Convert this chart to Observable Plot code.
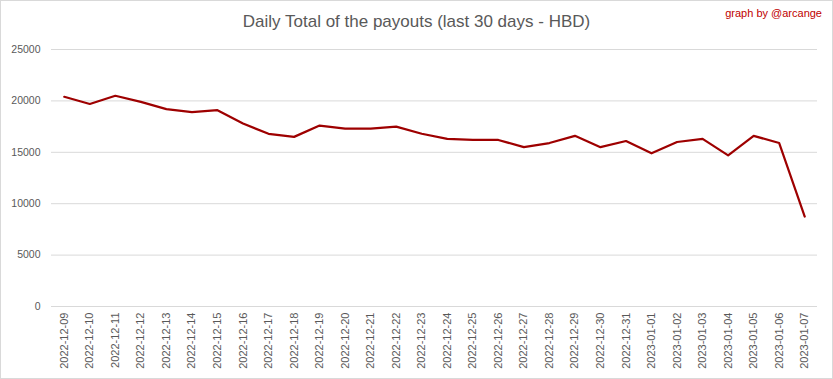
<!DOCTYPE html>
<html>
<head>
<meta charset="utf-8">
<script src="https://cdn.jsdelivr.net/npm/d3@7"></script>
<script src="https://cdn.jsdelivr.net/npm/@observablehq/plot@0.6"></script>
<style>
  html, body { margin: 0; padding: 0; background: #fff; }
  #wrap { position: relative; width: 833px; height: 379px; }
  #frame { position: absolute; left: 0; top: 0; width: 831px; height: 377px; border: 1px solid #d9d9d9; pointer-events: none; }
  #title { position: absolute; left: 0; width: 833px; top: 12px; text-align: center; font-family: "Liberation Sans", Arial, sans-serif; font-size: 17px; color: #595959; }
  #credit { position: absolute; right: 11px; top: 7px; font-family: "Liberation Sans", Arial, sans-serif; font-size: 11px; color: #c00000; }
  svg { display: block; }
</style>
</head>
<body>
<div id="wrap">
  <div id="chart"></div>
  <div id="title">Daily Total of the payouts (last 30 days - HBD)</div>
  <div id="credit">graph by @arcange</div>
  <div id="frame"></div>
</div>
<script>
const dates = [
  "2022-12-09","2022-12-10","2022-12-11","2022-12-12","2022-12-13","2022-12-14","2022-12-15",
  "2022-12-16","2022-12-17","2022-12-18","2022-12-19","2022-12-20","2022-12-21","2022-12-22",
  "2022-12-23","2022-12-24","2022-12-25","2022-12-26","2022-12-27","2022-12-28","2022-12-29",
  "2022-12-30","2022-12-31","2023-01-01","2023-01-02","2023-01-03","2023-01-04","2023-01-05",
  "2023-01-06","2023-01-07"
];
const payouts = [
  20400, 19700, 20500, 19900, 19200, 18900, 19100,
  17800, 16800, 16500, 17600, 17300, 17300, 17500,
  16800, 16300, 16200, 16200, 15500, 15900, 16600,
  15500, 16100, 14900, 16000, 16300, 14700, 16600,
  15900, 8750
];
const yTicks = [0, 5000, 10000, 15000, 20000, 25000];

const data = dates.map((d, i) => ({date: d, value: payouts[i]}));

const chart = Plot.plot({
  width: 833,
  height: 379,
  marginLeft: 51,
  marginRight: 16,
  marginTop: 49,
  marginBottom: 73,
  style: {fontFamily: "Liberation Sans, Arial, sans-serif", color: "#595959", background: "transparent"},
  x: {type: "point", domain: dates, padding: 0.5, round: false, label: null},
  y: {domain: [0, 25000], label: null},
  marks: [
    Plot.gridY(yTicks, {stroke: "#d9d9d9", strokeOpacity: 1, strokeWidth: 1}),
    Plot.axisY(yTicks, {tickSize: 0, tickPadding: 11, fontSize: 10.5, label: null, tickFormat: d => String(d)}),
    Plot.axisX(dates, {tickSize: 0, tickPadding: 6, tickRotate: -90, fontSize: 11, label: null}),
    Plot.line(data, {x: "date", y: "value", stroke: "#9e0000", strokeWidth: 2.2, curve: "linear"})
  ]
});
document.getElementById("chart").appendChild(chart);
</script>
</body>
</html>
